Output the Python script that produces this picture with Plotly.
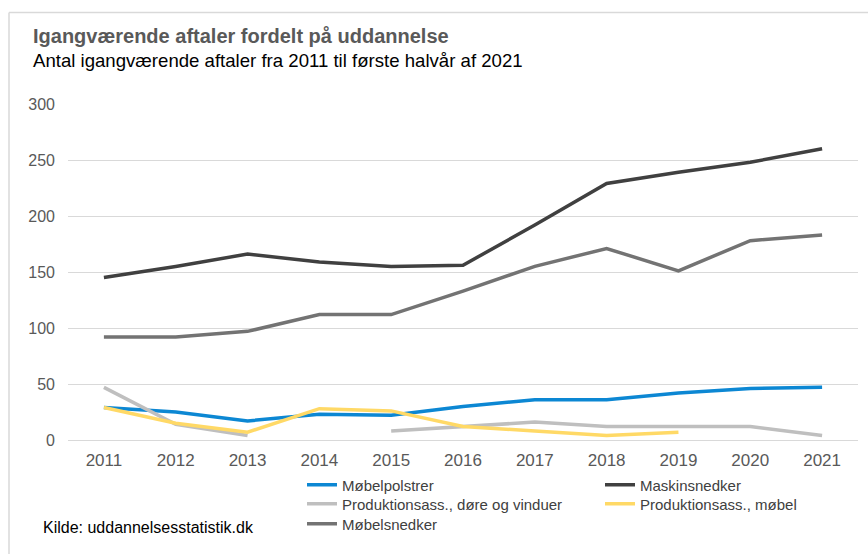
import plotly.graph_objects as go

years = [2011, 2012, 2013, 2014, 2015, 2016, 2017, 2018, 2019, 2020, 2021]
mobelpolstrer = [29, 25, 17, 23, 22, 30, 36, 36, 42, 46, 47]
maskinsnedker = [145, 155, 166, 159, 155, 156, 192, 229, 239, 248, 260]
prod_dore = [47, 14, 4, None, 8, 12, 16, 12, 12, 12, 4]
prod_mobel = [29, 15, 7, 28, 26, 12, 8, 4, 7, None, None]
mobelsnedker = [92, 92, 97, 112, 112, 133, 155, 171, 151, 178, 183]

series_names = ["Møbelpolstrer", "Maskinsnedker", "Produktionsass., døre og vinduer",
                "Produktionsass., møbel", "Møbelsnedker"]
series_values = [mobelpolstrer, maskinsnedker, prod_dore, prod_mobel, mobelsnedker]
colors = ["#0C87D3", "#404040", "#BFBFBF", "#FFD966", "#737373"]

title = "Igangværende aftaler fordelt på uddannelse"
subtitle = "Antal igangværende aftaler fra 2011 til første halvår af 2021"
source = "Kilde: uddannelsesstatistik.dk"

W, H = 868, 554
L, R, T, B = 68, 10, 104, 114
pw, ph = W - L - R, H - T - B

def px(x):
    return (x - L) / pw

def py(y):
    return (H - B - y) / ph

# legend slot for each series (left px, centre px)
legend_ids = ["legend", "legend2", "legend3", "legend4", "legend5"]
legend_pos = [(302, 485), (600, 485), (302, 504), (600, 504), (302, 524)]

fig = go.Figure()
for name, vals, col, lg in zip(series_names, series_values, colors, legend_ids):
    fig.add_trace(go.Scatter(x=years, y=vals, name=name, mode="lines", legend=lg,
                             line=dict(color=col, width=3.5), connectgaps=False))

legend_font = dict(size=15, color="#404040", family="Liberation Sans, Arial")
legends = {}
for lg, (lx, ly) in zip(legend_ids, legend_pos):
    legends[lg] = dict(orientation="v", x=px(lx), y=py(ly), xanchor="left", yanchor="middle",
                       itemwidth=30, font=legend_font, bgcolor="rgba(0,0,0,0)")

fig.update_layout(
    width=W, height=H,
    margin=dict(l=L, r=R, t=T, b=B, autoexpand=False),
    paper_bgcolor="white", plot_bgcolor="white",
    font=dict(family="Liberation Sans, Arial", color="#595959"),
    showlegend=True,
    xaxis=dict(range=[2010.5, 2021.5], tickmode="array", tickvals=years,
               ticktext=[str(y) for y in years], showgrid=False, zeroline=False,
               showline=False, ticks="", ticklabelstandoff=8,
               tickfont=dict(size=17, color="#595959")),
    yaxis=dict(range=[0, 300], dtick=50, showgrid=True, gridcolor="#D9D9D9", gridwidth=1.3,
               zeroline=True, zerolinecolor="#D9D9D9", zerolinewidth=1.3, showline=False,
               ticks="", ticklabelstandoff=12, tickfont=dict(size=16, color="#595959")),
    annotations=[
        dict(text="<b>" + title + "</b>", xref="paper", yref="paper", x=px(31), y=py(36),
             xanchor="left", yanchor="middle", showarrow=False,
             font=dict(size=20, color="#595959")),
        dict(text=subtitle, xref="paper", yref="paper", x=px(31), y=py(60),
             xanchor="left", yanchor="middle", showarrow=False,
             font=dict(size=18.6, color="#000000")),
        dict(text=source, xref="paper", yref="paper", x=px(41), y=py(527),
             xanchor="left", yanchor="middle", showarrow=False,
             font=dict(size=16, color="#000000")),
    ],
    shapes=[
        dict(type="line", xref="paper", yref="paper", x0=px(9), x1=px(868), y0=py(12.5), y1=py(12.5),
             line=dict(color="#D9D9D9", width=1.5)),
        dict(type="line", xref="paper", yref="paper", x0=px(9), x1=px(9), y0=py(12.5), y1=py(554),
             line=dict(color="#D9D9D9", width=1.5)),
    ],
    **legends,
)

fig.write_html("out.html", config={"displayModeBar": False},
               post_script="document.body.style.margin='0';")
